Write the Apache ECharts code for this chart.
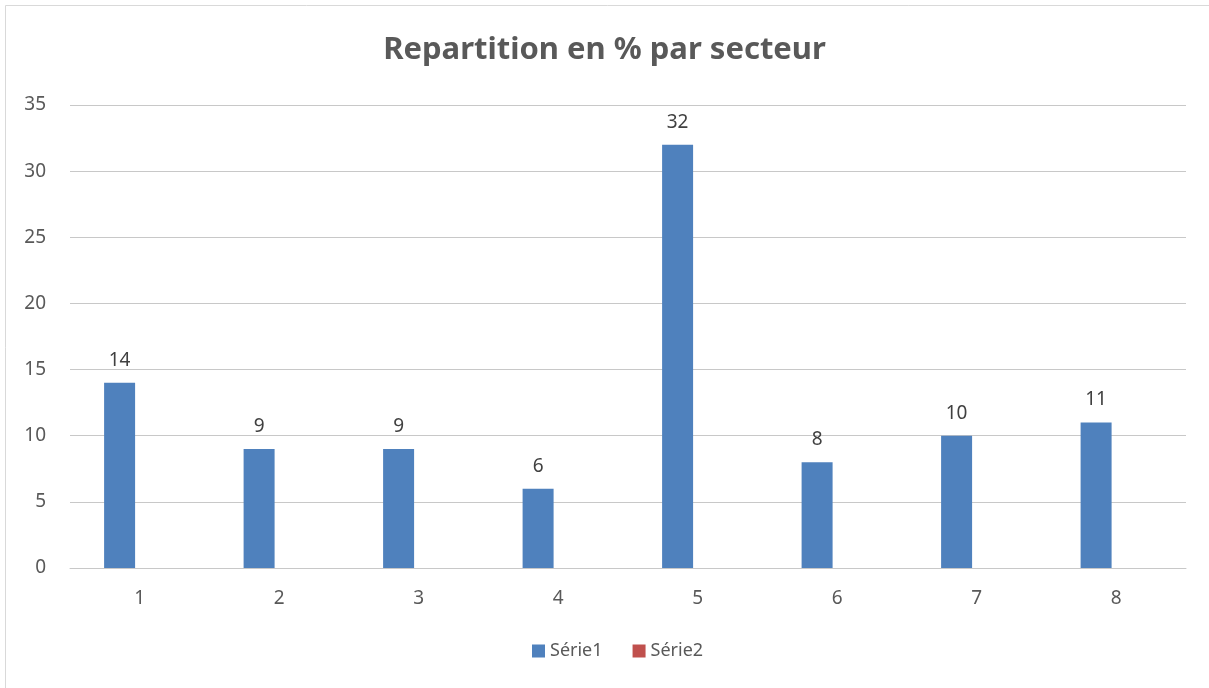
<!DOCTYPE html>
<html>
<head>
<meta charset="utf-8">
<script src="https://cdn.jsdelivr.net/npm/echarts@6/dist/echarts.min.js"></script>
<style>html,body{margin:0;padding:0;background:#fff}#c{width:1209px;height:688px}</style>
</head>
<body>
<div id="c"></div>
<script>
const categories = ['1','2','3','4','5','6','7','8'];
const serie1 = [14, 9, 9, 6, 32, 8, 10, 11];
const serie2 = [null, null, null, null, null, null, null, null];
const seriesNames = ['Série1', 'Série2'];
const titleText = 'Repartition en % par secteur';

const chart = echarts.init(document.getElementById('c'));
const font = 'Noto Sans';
chart.setOption({
  animation: false,
  backgroundColor: '#fff',
  graphic: [{
    type: 'rect', shape: {x: 5.5, y: 5.5, width: 1300, height: 800},
    style: {fill: 'none', stroke: '#d9d9d9', lineWidth: 1}, silent: true
  }],
  title: {
    text: titleText, left: 'center', top: 30,
    textStyle: {fontFamily: font, fontWeight: 'bold', fontSize: 31, color: '#595959'}
  },
  grid: {left: 70, right: 23, top: 105, bottom: 120, containLabel: false},
  legend: {
    bottom: 23, left: 527, itemWidth: 13, itemHeight: 13, itemGap: 30,
    icon: 'rect',
    textStyle: {fontFamily: font, fontSize: 18, color: '#595959'},
    data: seriesNames
  },
  xAxis: {
    type: 'category', data: categories,
    axisLine: {lineStyle: {color: '#c8c8c8', width: 1}},
    axisTick: {show: false},
    axisLabel: {fontFamily: font, fontSize: 19, color: '#595959', margin: 21}
  },
  yAxis: {
    type: 'value', min: 0, max: 35, interval: 5,
    axisLine: {show: false}, axisTick: {show: false},
    splitLine: {lineStyle: {color: '#c8c8c8', width: 1}},
    axisLabel: {fontFamily: font, fontSize: 19, color: '#595959', margin: 24}
  },
  series: [
    {
      name: seriesNames[0], type: 'bar', data: serie1, barWidth: 31, barGap: '30%',
      itemStyle: {color: '#4f81bd'},
      label: {show: true, position: 'top', distance: 13, fontFamily: font, fontSize: 19, color: '#404040'}
    },
    {
      name: seriesNames[1], type: 'bar', data: serie2, barWidth: 31,
      itemStyle: {color: '#c0504d'}
    }
  ]
});
</script>
</body>
</html>
